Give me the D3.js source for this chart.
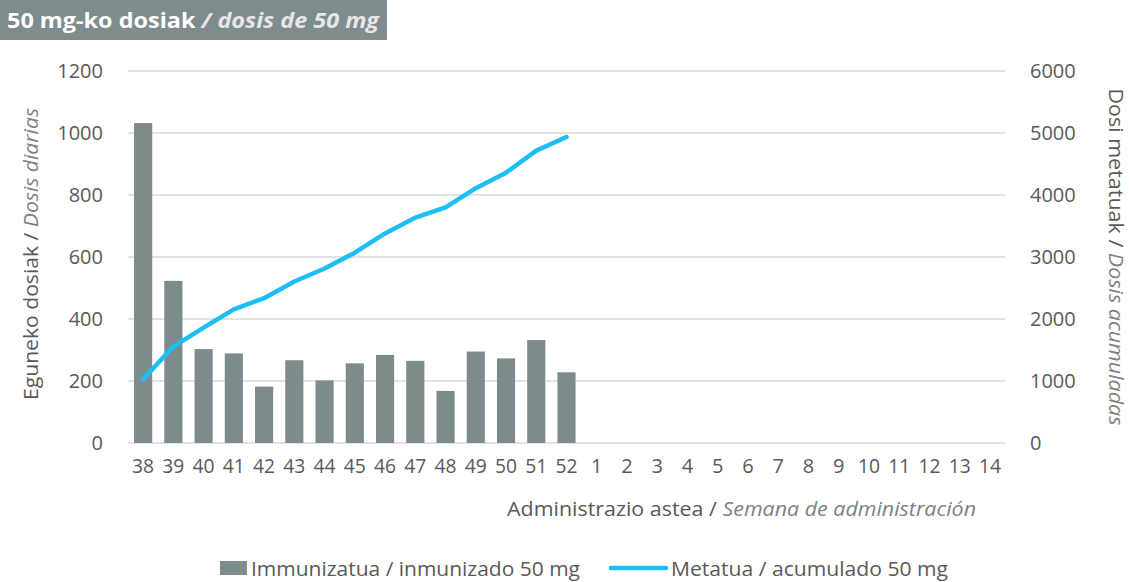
<!DOCTYPE html>
<html>
<head>
<meta charset="utf-8">
<script src="https://cdn.jsdelivr.net/npm/d3@7"></script>
<style>
  body { margin: 0; background: #fff; }
  svg { font-family: "Open Sans", "Noto Sans", sans-serif; }
</style>
</head>
<body>
<svg id="chart" width="1130" height="582"></svg>
<script>
const weeks = ["38","39","40","41","42","43","44","45","46","47","48","49","50","51","52",
  "1","2","3","4","5","6","7","8","9","10","11","12","13","14"];
const dailyDoses = [1032, 523, 303, 289, 182, 267, 202, 257, 284, 265, 168, 295, 273, 332, 228];
const cumulativeDoses = [1030, 1555, 1860, 2155, 2335, 2605, 2815, 3070, 3380, 3635, 3800, 4110, 4360, 4715, 4935];
const leftTicks = [0, 200, 400, 600, 800, 1000, 1200];
const rightTicks = [0, 1000, 2000, 3000, 4000, 5000, 6000];

const svg = d3.select("#chart");
const m = { left: 128, right: 1005, top: 71, bottom: 443 };
const fs = "20px";

const x = d3.scaleBand().domain(weeks).range([m.left, m.right]).paddingInner(0.4).paddingOuter(0.2);
const yL = d3.scaleLinear().domain([0, 1200]).range([m.bottom, m.top]);
const yR = d3.scaleLinear().domain([0, 6000]).range([m.bottom, m.top]);

// title box
svg.append("rect").attr("x", 0).attr("y", 0).attr("width", 387).attr("height", 40).attr("fill", "#7f8c8d");
const title = svg.append("text").attr("x", 7).attr("y", 28).style("font-size", "22px").style("font-weight", "bold")
  .attr("textLength", 372).attr("lengthAdjust", "spacingAndGlyphs");
title.append("tspan").attr("fill", "#fff").text("50 mg-ko dosiak ");
title.append("tspan").attr("fill", "#e6e6e6").style("font-style", "italic").text("/ dosis de 50 mg");

// grid
svg.append("g").selectAll("line").data(leftTicks).join("line")
  .attr("x1", m.left).attr("x2", m.right)
  .attr("y1", d => yL(d)).attr("y2", d => yL(d))
  .attr("stroke", "#d9d9d9").attr("stroke-width", 1.3);

// left axis labels
const axL = svg.append("g").attr("transform", `translate(${m.left - 25},0)`)
  .call(d3.axisLeft(yL).tickValues(leftTicks).tickFormat(d3.format("d")).tickSize(0).tickPadding(0));
axL.select(".domain").remove();
axL.selectAll("text").style("font-size", fs).attr("fill", "#595959").style("font-family", "'Open Sans', sans-serif");

// right axis labels
const axR = svg.append("g").attr("transform", `translate(${m.right + 25},0)`)
  .call(d3.axisRight(yR).tickValues(rightTicks).tickFormat(d3.format("d")).tickSize(0).tickPadding(0));
axR.select(".domain").remove();
axR.selectAll("text").style("font-size", fs).attr("fill", "#595959").style("font-family", "'Open Sans', sans-serif");

// x axis
const axX = svg.append("g").attr("transform", `translate(0,${m.bottom})`)
  .call(d3.axisBottom(x).tickSize(0).tickPadding(16));
axX.select(".domain").remove();
axX.selectAll("text").style("font-size", fs).attr("fill", "#595959")
  .style("font-family", "'Open Sans', sans-serif").attr("textLength", d => d.length > 1 ? 22 : null)
  .attr("lengthAdjust", "spacingAndGlyphs");

// bars
svg.append("g").selectAll("rect").data(dailyDoses).join("rect")
  .attr("x", (d, i) => x(weeks[i]))
  .attr("width", x.bandwidth())
  .attr("y", d => yL(d))
  .attr("height", d => yL(0) - yL(d))
  .attr("fill", "#7d8b8c");

// cumulative line
const line = d3.line()
  .x((d, i) => x(weeks[i]) + x.bandwidth() / 2)
  .y(d => yR(d));
svg.append("path").datum(cumulativeDoses)
  .attr("d", line).attr("fill", "none")
  .attr("stroke", "#1bbff5").attr("stroke-width", 4.5)
  .attr("stroke-linecap", "round").attr("stroke-linejoin", "round");

// axis titles
const lt = svg.append("text").attr("transform", "translate(38,254) rotate(-90)")
  .attr("text-anchor", "middle").style("font-size", fs)
  .attr("textLength", 292).attr("lengthAdjust", "spacingAndGlyphs");
lt.append("tspan").attr("fill", "#595959").text("Eguneko dosiak / ");
lt.append("tspan").attr("fill", "#7f7f7f").style("font-style", "italic").text("Dosis diarias");

const rt = svg.append("text").attr("transform", "translate(1109,257) rotate(90)")
  .attr("text-anchor", "middle").style("font-size", fs)
  .attr("textLength", 337).attr("lengthAdjust", "spacingAndGlyphs");
rt.append("tspan").attr("fill", "#595959").text("Dosi metatuak / ");
rt.append("tspan").attr("fill", "#7f7f7f").style("font-style", "italic").text("Dosis acumuladas");

const xt = svg.append("text").attr("x", 976).attr("y", 516)
  .attr("text-anchor", "end").style("font-size", fs)
  .attr("textLength", 469).attr("lengthAdjust", "spacingAndGlyphs");
xt.append("tspan").attr("fill", "#595959").text("Administrazio astea / ");
xt.append("tspan").attr("fill", "#7f7f7f").style("font-style", "italic").text("Semana de administración");

// legend
const lg = svg.append("g");
lg.append("rect").attr("x", 220).attr("y", 561).attr("width", 27).attr("height", 14).attr("fill", "#7d8b8c");
lg.append("text").attr("x", 251).attr("y", 576).style("font-size", fs).attr("fill", "#595959")
  .attr("textLength", 329).attr("lengthAdjust", "spacingAndGlyphs")
  .text("Immunizatua / inmunizado 50 mg");
lg.append("line").attr("x1", 611).attr("x2", 666).attr("y1", 568).attr("y2", 568)
  .attr("stroke", "#1bbff5").attr("stroke-width", 4.5).attr("stroke-linecap", "round");
lg.append("text").attr("x", 671).attr("y", 576).style("font-size", fs).attr("fill", "#595959")
  .attr("textLength", 277).attr("lengthAdjust", "spacingAndGlyphs")
  .text("Metatua / acumulado 50 mg");
</script>
</body>
</html>
